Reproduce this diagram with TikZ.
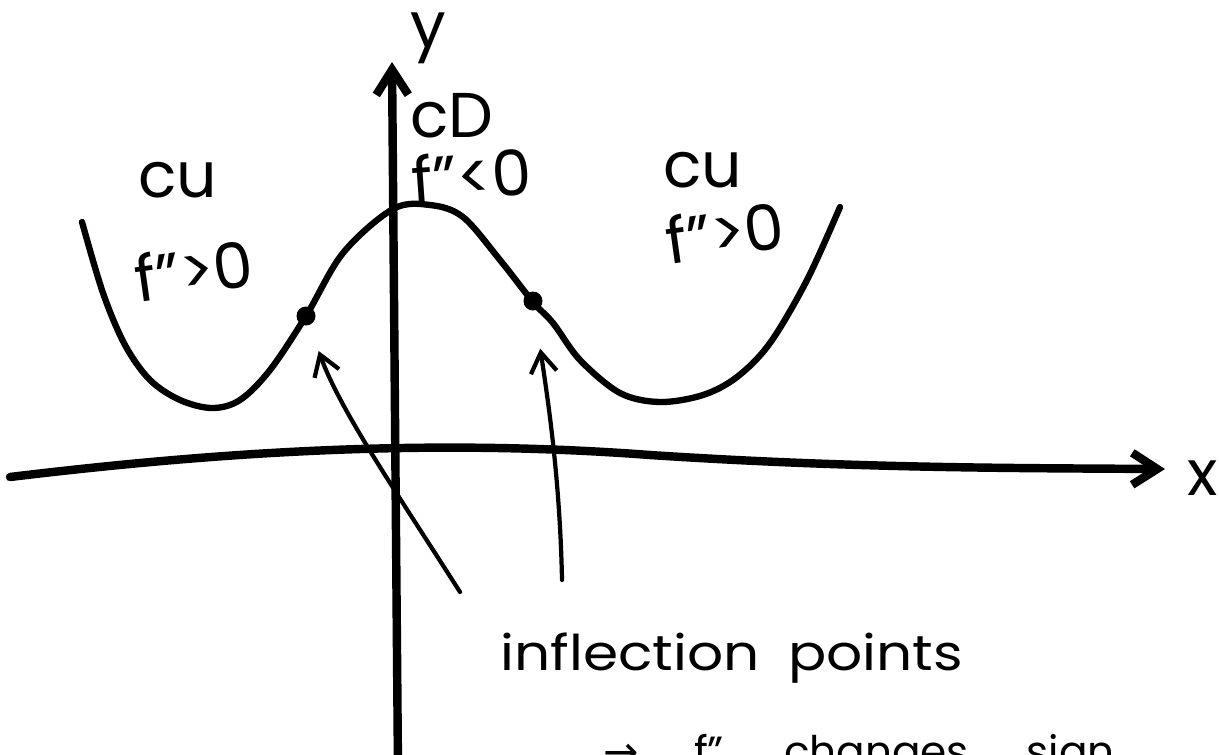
\documentclass[tikz,border=0pt]{standalone}
\usepackage{fontspec}
\setmainfont{Poppins}
\newfontfamily\arrowfont{DejaVu Sans}
\usetikzlibrary{arrows.meta,positioning}

\begin{document}
\begin{tikzpicture}[x=0.01cm,y=-0.01cm,line cap=round,line join=round,
  axis/.style={line width=2.4pt,-{Straight Barb[length=2.5mm,width=3.2mm]}},
  graph/.style={line width=1.8pt},
  pointer/.style={line width=1.2pt,-{Straight Barb[length=2mm,width=2.6mm]}},
  ipoint/.style={circle,fill,inner sep=0pt,minimum size=1.9mm},
  lbl/.style={font=\fontsize{18}{20}\selectfont,inner sep=0pt},
  note/.style={font=\fontsize{14}{16}\selectfont,inner sep=0pt,anchor=base west}]
  \useasboundingbox (0,0) rectangle (1219,754);

  \coordinate (xstart) at (10,477);
  \coordinate (xend) at (1165,469);
  \coordinate (ystart) at (398,770);
  \coordinate (yend) at (392,62);
  \draw[axis] (xstart) .. controls (250,448) and (450,440) .. (650,455)
    .. controls (850,468) and (1000,468) .. (xend);
  \draw[axis] (ystart) -- (yend);
  \node[lbl] (xlab) at (1203,478) {x};
  \node[lbl] (ylab) at (428,38) {y};

  \draw[graph] plot[smooth,tension=0.55] coordinates {
    (82,222) (103,293) (125,345) (150,380) (180,400) (212,408) (240,400)
    (270,370) (306,316) (343,253) (393,209) (430,205) (463,217) (500,260)
    (533,302) (553,323) (580,360) (620,393) (660,402) (703,395) (737,377)
    (770,343) (807,280) (840,207)};
  \node[ipoint] (lip) at (306,316) {};
  \node[ipoint] (rip) at (533,301) {};

  \node[lbl] (cuL) at (178,180) {cu};
  \node[lbl,rotate=8] (fL) at (194,270) {f">0};
  \node[lbl] (cd) at (452,116) {cD};
  \node[lbl,rotate=4] (fM) at (472,175) {f"<0};
  \node[lbl] (cuR) at (703,170) {cu};
  \node[lbl,rotate=8] (fR) at (725,232) {f">0};

  \coordinate (ltail) at (460,592);
  \coordinate (rtail) at (562,580);
  \draw[pointer,shorten >=2.7mm] (ltail) .. controls (395,490) and (340,410) .. (lip);
  \draw[pointer,shorten >=3.8mm] (rtail) .. controls (560,480) and (548,400) .. (rip);

  \node[note] (infl) at (500,670) {\scalebox{1.15}[1]{inflection\hspace{0.5em}points}};
  \node[note,font=\fontsize{12}{14}\selectfont] (sign) at (603,766)
    {{\arrowfont →}\hspace{5.5mm}f"\hspace{6mm}changes\hspace{5.8mm}sign};
\end{tikzpicture}
\end{document}
